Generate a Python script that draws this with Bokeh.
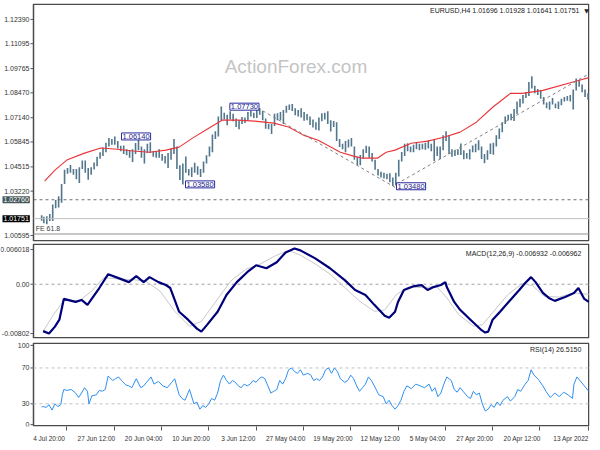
from bokeh.plotting import figure
from bokeh.layouts import column
from bokeh.models import Range1d, FixedTicker, Label
from bokeh.core.properties import value
from bokeh.embed import file_html
from bokeh.resources import INLINE

# ---------------- data ----------------
# EURUSD H4, 13 Apr - 7 Jul 2022: high/low of each 8-hour block (3 blocks per trading day)
seg_high = [
    1.0845, 1.0865, 1.0892,  1.0915, 1.0924, 1.0865,  1.0835, 1.0830, 1.0825,
    1.0815, 1.0800, 1.0790,  1.0820, 1.0800, 1.0795,  1.0825, 1.0860, 1.0867,
    1.0885, 1.0936, 1.0905,  1.0851, 1.0835, 1.0815,  1.0800, 1.0760, 1.0735,
    1.0730, 1.0720, 1.0690,  1.0656, 1.0620, 1.0580,  1.0577, 1.0540, 1.0520,
    1.0560, 1.0594, 1.0575,  1.0566, 1.0545, 1.0525,  1.0540, 1.0576, 1.0545,
    1.0540, 1.0545, 1.0621,  1.0642, 1.0620, 1.0560,  1.0560, 1.0597, 1.0575,
    1.0594, 1.0580, 1.0575,  1.0575, 1.0584, 1.0570,  1.0560, 1.0578, 1.0575,
    1.0531, 1.0490, 1.0420,  1.0395, 1.0418, 1.0415,  1.0420, 1.0425, 1.0440,
    1.0490, 1.0525, 1.0560,  1.0565, 1.0545, 1.0515,  1.0505, 1.0560, 1.0606,
    1.0598, 1.0590, 1.0575,  1.0600, 1.0690, 1.0697,  1.0700, 1.0748, 1.0740,
    1.0738, 1.0715, 1.0690,  1.0705, 1.0720, 1.0734,  1.0745, 1.0765, 1.0755,
    1.0765, 1.0787, 1.0785,  1.0778, 1.0755, 1.0745,  1.0738, 1.0735, 1.0680,
    1.0680, 1.0710, 1.0750,  1.0765, 1.0755, 1.0740,  1.0753, 1.0745, 1.0715,
    1.0718, 1.0700, 1.0710,  1.0735, 1.0749, 1.0730,  1.0740, 1.0774, 1.0720,
    1.0642, 1.0625, 1.0560,  1.0514, 1.0480, 1.0440,  1.0455, 1.0474, 1.0450,
    1.0440, 1.0507, 1.0470,  1.0460, 1.0560, 1.0601,  1.0549, 1.0525, 1.0510,
    1.0520, 1.0546, 1.0535,  1.0535, 1.0583, 1.0575,  1.0545, 1.0560, 1.0606,
    1.0579, 1.0545, 1.0540,  1.0545, 1.0566, 1.0565,  1.0590, 1.0614, 1.0600,
    1.0606, 1.0580, 1.0555,  1.0530, 1.0505, 1.0475,  1.0450, 1.0445, 1.0486,
    1.0486, 1.0450, 1.0440,  1.0440, 1.0461, 1.0445,  1.0436, 1.0360, 1.0295,
    1.0275, 1.0250, 1.0200,  1.0188, 1.0185, 1.0193,
]
seg_low = [
    1.0810, 1.0825, 1.0850,  1.0880, 1.0860, 1.0758,  1.0800, 1.0805, 1.0800,
    1.0780, 1.0760, 1.0765,  1.0785, 1.0757, 1.0765,  1.0785, 1.0815, 1.0835,
    1.0845, 1.0870, 1.0830,  1.0820, 1.0790, 1.0770,  1.0735, 1.0697, 1.0700,
    1.0700, 1.0680, 1.0636,  1.0600, 1.0560, 1.0516,  1.0520, 1.0490, 1.0471,
    1.0494, 1.0540, 1.0530,  1.0530, 1.0491, 1.0495,  1.0492, 1.0515, 1.0515,
    1.0510, 1.0505, 1.0520,  1.0590, 1.0540, 1.0493,  1.0510, 1.0483, 1.0535,
    1.0550, 1.0543, 1.0545,  1.0540, 1.0545, 1.0529,  1.0530, 1.0535, 1.0509,
    1.0480, 1.0400, 1.0354,  1.0349, 1.0370, 1.0385,  1.0389, 1.0395, 1.0405,
    1.0436, 1.0480, 1.0500,  1.0525, 1.0495, 1.0460,  1.0462, 1.0490, 1.0560,
    1.0555, 1.0530, 1.0545,  1.0557, 1.0590, 1.0665,  1.0641, 1.0680, 1.0705,
    1.0695, 1.0646, 1.0650,  1.0662, 1.0675, 1.0700,  1.0698, 1.0715, 1.0720,
    1.0727, 1.0750, 1.0755,  1.0740, 1.0681, 1.0700,  1.0700, 1.0670, 1.0627,
    1.0653, 1.0655, 1.0700,  1.0730, 1.0712, 1.0712,  1.0720, 1.0700, 1.0686,
    1.0680, 1.0653, 1.0665,  1.0695, 1.0705, 1.0674,  1.0705, 1.0700, 1.0614,
    1.0600, 1.0530, 1.0507,  1.0470, 1.0420, 1.0397,  1.0410, 1.0420, 1.0397,
    1.0405, 1.0420, 1.0358,  1.0381, 1.0440, 1.0520,  1.0490, 1.0445, 1.0470,
    1.0484, 1.0500, 1.0500,  1.0505, 1.0525, 1.0525,  1.0470, 1.0500, 1.0540,
    1.0520, 1.0477, 1.0500,  1.0513, 1.0520, 1.0535,  1.0549, 1.0570, 1.0570,
    1.0560, 1.0530, 1.0510,  1.0495, 1.0455, 1.0437,  1.0410, 1.0383, 1.0420,
    1.0440, 1.0366, 1.0385,  1.0410, 1.0420, 1.0415,  1.0360, 1.0260, 1.0235,
    1.0230, 1.0162, 1.0162,  1.0145, 1.0150, 1.0164,
]

# moving average (red) : bar index / value
ma_idx = [0, 7, 31, 45, 53, 65, 76, 87, 98, 109, 120, 131, 137, 143, 153, 159, 168, 177, 183,
          193, 203, 213, 226, 237, 248, 257, 268, 277, 286, 297, 308, 319, 330, 341, 353, 361, 368]
ma_val = [1.0928, 1.0913, 1.0860, 1.0844, 1.0844, 1.0770, 1.0690, 1.0637, 1.0610, 1.0589, 1.0578,
          1.0541, 1.0530, 1.0498, 1.0498, 1.0509, 1.0530, 1.0568, 1.0594, 1.0621, 1.0664, 1.0685,
          1.0696, 1.0701, 1.0701, 1.0658, 1.0605, 1.0557, 1.0541, 1.0530, 1.0536, 1.0546, 1.0552,
          1.0525, 1.0488, 1.0434, 1.0375]

# dashed trend lines (bar index / price)
trend1_idx = [130, 0]
trend1_val = [1.0360, 1.0948]
trend2_idx = [224, 131]
trend2_val = [1.0767, 1.0342]

# marked highs/lows (bar index where the tag starts, price)
tag_idx = [316, 242.7, 272.7, 130]
tag_val = [1.0614, 1.0773, 1.0358, 1.0348]
tag_txt = ["1.06140", "1.07730", "1.03580", "1.03480"]

level_dash = 1.02760
level_last = 1.01751
level_fe = 1.0093
level_dash_txt = "1.02760"
level_last_txt = "1.01751"

price_ticks = [1.0085, 1.03220, 1.04515, 1.05845, 1.07140, 1.08470, 1.09765, 1.11095, 1.12390]
price_tick_labels = ["1.00595", "1.03220", "1.04515", "1.05845", "1.07140", "1.08470",
                     "1.09765", "1.11095", "1.12390"]

# MACD(12,26,9)
macd_idx = [0, 3, 7, 10, 16, 23, 27, 31, 36, 39, 43, 47, 53, 60, 65, 68, 70, 73, 80, 87, 91, 96,
            97, 100, 105, 109, 113, 118, 125, 129, 131, 135, 138, 145, 151, 158, 165, 175, 185,
            195, 199, 205, 211, 218, 225, 231, 238, 245, 251, 258, 262, 265, 271, 277, 283, 286,
            291, 297, 301, 306, 311, 318, 325, 331, 339, 343, 347, 355, 358, 361, 365, 369]
macd_val = [-0.00261, -0.00217, -0.00056, -0.00129, -0.00188, -0.00246, -0.00202, -0.00129,
            0.00031, 0.00105, 0.00017, -0.00085, -0.00232, -0.00407, -0.00524, -0.00700,
            -0.00714, -0.00670, -0.00524, -0.00378, -0.00261, -0.00042, 0.00031, -0.00012,
            -0.00042, -0.00085, -0.00012, -0.00027, -0.00085, -0.00261, -0.00407, -0.00495,
            -0.00466, -0.00305, -0.00159, -0.00085, 0.00061, 0.00236, 0.00382, 0.00500,
            0.00529, 0.00470, 0.00324, 0.00236, 0.00280, 0.00178, 0.00031, -0.00159, -0.00407,
            -0.00597, -0.00700, -0.00656, -0.00524, -0.00407, -0.00056, -0.00012, 0.00031,
            0.00105, 0.00031, 0.00119, 0.00031, 0.00090, 0.00148, -0.00056, -0.00305,
            -0.00232, -0.00261, -0.00217, -0.00524, -0.00626, -0.00729, -0.00693]
sig_idx = [0, 10, 20, 30, 38, 45, 55, 65, 72, 78, 88, 96, 103, 112, 122, 130, 138, 145, 155,
           165, 175, 185, 195, 203, 212, 222, 232, 242, 252, 262, 270, 280, 290, 300, 310, 320,
           328, 336, 345, 355, 362, 369]
sig_val = [-0.0015, -0.0013, -0.0019, -0.0018, -0.0002, 0.0001, -0.0016, -0.0042, -0.0060,
           -0.0062, -0.0045, -0.0020, -0.0003, -0.0005, -0.0004, -0.0015, -0.0038, -0.0040,
           -0.0025, -0.0005, 0.0015, 0.0030, 0.0043, 0.0050, 0.0042, 0.0030, 0.0022, 0.0005,
           -0.0025, -0.0055, -0.0062, -0.0040, -0.0010, 0.0005, 0.0007, 0.0008, 0.0010,
           -0.0010, -0.0025, -0.0024, -0.0045, -0.00696]
macd_ticks = [-0.00728, 0.0, 0.00513]
macd_tick_labels = ["-0.00802", "0.00", "0.006018"]

# RSI(14)
rsi_idx = [0, 3, 6, 8, 10, 11, 14, 17, 20, 23, 26, 29, 31, 34, 37, 39, 41, 43, 46, 48, 50, 53,
           55, 58, 60, 62, 64, 66, 68, 70, 72, 74, 76, 78, 80, 82, 85, 87, 89, 91, 93, 96, 98,
           100, 102, 104, 106, 108, 111, 114, 117, 120, 123, 125, 127, 129, 131, 133, 135, 137,
           139, 142, 145, 147, 149, 151, 153, 155, 157, 159, 161, 163, 165, 168, 170, 172, 174,
           176, 178, 180, 182, 184, 186, 188, 190, 193, 195, 197, 199, 201, 203, 205, 207, 209,
           211, 213, 215, 217, 219, 221, 223, 225, 227, 229, 231, 233, 235, 237, 239, 241, 243,
           245, 247, 249, 251, 253, 255, 257, 259, 261, 263, 265, 267, 270, 273, 275, 277, 280,
           282, 285, 288, 291, 294, 296, 299, 301, 303, 306, 309, 311, 313, 316, 318, 320, 322,
           325, 327, 329, 331, 333, 336, 338, 339, 341, 343, 345, 347, 350, 353, 355, 356, 357,
           359, 361, 363, 365, 367, 369, 370]
rsi_val = [44, 50, 56, 60, 52, 36, 40, 43, 38, 42, 37, 44, 50, 57, 62, 68, 56, 52, 44, 46, 38,
           33, 38, 34, 28, 32, 26, 29, 24, 22, 30, 42, 40, 44, 36, 38, 44, 48, 43, 46, 56, 60,
           52, 42, 38, 48, 44, 52, 48, 50, 52, 47, 50, 44, 34, 28, 24, 28, 34, 30, 38, 40, 50,
           56, 60, 52, 48, 44, 50, 58, 62, 56, 54, 58, 66, 70, 64, 70, 68, 60, 56, 58, 56, 62,
           64, 62, 68, 64, 66, 70, 68, 58, 52, 56, 46, 44, 42, 50, 58, 60, 58, 54, 56, 52, 50,
           52, 48, 50, 54, 56, 52, 56, 62, 56, 42, 34, 36, 30, 26, 28, 24, 32, 30, 46, 34, 36,
           40, 58, 54, 48, 50, 55, 52, 60, 54, 50, 48, 58, 48, 50, 51, 56, 60, 58, 56, 61, 46,
           44, 45, 40, 39, 30, 44, 48, 42, 37, 42, 46, 45, 46, 40, 29, 27, 30, 23, 29, 26, 27,
           26.5]
rsi_levels = [30, 70]
rsi_ticks = [6.8, 30, 70, 95.2]
rsi_tick_labels = ["0", "30", "70", "100"]

# time axis
x_tick_idx = [0, 33, 65, 97, 129, 161, 193, 225, 257, 289, 321, 353]
x_tick_labels = ["13 Apr 2022", "20 Apr 12:00", "27 Apr 20:00", "5 May 04:00", "12 May 12:00",
                 "19 May 20:00", "27 May 04:00", "3 Jun 12:00", "10 Jun 20:00", "20 Jun 04:00",
                 "27 Jun 12:00", "4 Jul 20:00"]

# ---------------- layout helpers ----------------
FONT = "Liberation Sans"
W = 590
LB = 33          # width of the price-scale column left of each pane
RB = 1
X_LEFT, X_RIGHT = 375.5, -0.5
PPX = (W - LB - RB) / (X_LEFT - X_RIGHT)      # pixels per bar
# every frame starts at the canvas edge; the scale column is drawn inside it
x_range = Range1d(X_LEFT + LB / PPX, X_RIGHT)
BORDER = "#4a4a4a"
TXT = "#333333"


def pane(height, y0, y1, frame_h, top, bottom, ticks, labels, **kw):
    p = figure(width=W, height=height, x_range=x_range, y_range=Range1d(y0, y1),
               output_backend="svg", toolbar_location=None,
               min_border_left=0, min_border_right=RB, min_border_top=top,
               min_border_bottom=bottom, y_axis_location=None, **kw)
    p.grid.visible = False
    p.outline_line_color = None
    p.background_fill_color = "white"
    p.border_fill_color = "white"
    ppy = frame_h / (y1 - y0)
    # pane border
    p.quad(left=[X_LEFT], right=[X_RIGHT + 0.75 / PPX], bottom=[y0 + 0.75 / ppy],
           top=[y1 - 0.75 / ppy], fill_color=None, line_color=BORDER, line_width=1.5)
    # value scale: tick marks and labels left of the pane
    n = len(ticks)
    p.segment(x0=[X_LEFT] * n, x1=[X_LEFT + 3 / PPX] * n, y0=ticks, y1=ticks,
              line_color="#555555", line_width=1)
    p.text(x=[X_LEFT + 4 / PPX] * n, y=ticks, text=labels, text_align="right",
           text_baseline="middle", text_font=value(FONT), text_font_size=value("7px"),
           text_color=TXT)
    return p


def hline(p, y, **kw):
    p.line([X_LEFT, X_RIGHT], [y, y], **kw)


def title(p, x, y, text):
    p.add_layout(Label(x=x, y=y, text=text, text_align="right", text_baseline="middle",
                       text_font=FONT, text_font_size="7px", text_color="#222222"))


# ---------------- price pane ----------------
p1 = pane(242, 1.0053, 1.1324, 238, 3, 1, price_ticks, price_tick_labels,
          x_axis_location=None)

seg_x = [2 * i + 0.5 for i in range(len(seg_high))]
seg_x[-1] = 370
p1.segment(x0=seg_x, y0=seg_low, x1=seg_x, y1=seg_high, line_color="#52768c", line_width=1.6)
p1.line(ma_idx, ma_val, line_color="#e8353a", line_width=1.1)
p1.line(trend1_idx, trend1_val, line_color="#808080", line_dash="3 3", line_width=1)
p1.line(trend2_idx, trend2_val, line_color="#808080", line_dash="3 3", line_width=1)
hline(p1, level_dash, line_color="#707070", line_dash="3 3", line_width=1)
hline(p1, level_last, line_color="#c0c0c0", line_width=1)
hline(p1, level_fe, line_color="#909090", line_width=1)

for xi, yv, t in zip(tag_idx, tag_val, tag_txt):
    p1.add_layout(Label(x=xi, y=yv, text=t, text_align="left", text_baseline="middle",
                        text_font=FONT, text_font_size="7.5px", text_color="#1c1c8c",
                        background_fill_color="white", border_line_color="#2a2aa0",
                        border_line_width=1, padding=1))

x_tag = X_LEFT + (LB - 2) / PPX
p1.add_layout(Label(x=x_tag, y=level_dash, text=level_dash_txt, text_align="left",
                    text_baseline="middle", text_font=FONT, text_font_size="7px",
                    text_color="white", background_fill_color="#46585c", padding=1))
p1.add_layout(Label(x=x_tag, y=level_last, text=level_last_txt, text_align="left",
                    text_baseline="middle", text_font=FONT, text_font_size="7px",
                    text_color="white", background_fill_color="#000000", padding=1))
p1.add_layout(Label(x=374, y=1.0120, text="FE 61.8", text_align="left", text_baseline="middle",
                    text_font=FONT, text_font_size="7px", text_color="#404040"))
p1.add_layout(Label(x=198, y=1.0985, text="ActionForex.com", text_align="center",
                    text_baseline="middle", text_font=FONT, text_font_size="19px",
                    text_color="#c4c4c4"))
title(p1, 5, 1.1285, "EURUSD,H4  1.01696 1.01928 1.01641 1.01751")
p1.add_layout(Label(x=1.5, y=1.1285, text="▼", text_align="center", text_baseline="middle",
                    text_font="DejaVu Sans", text_font_size="6px", text_color="#222222"))

# ---------------- MACD pane ----------------
p2 = pane(97, -0.00802, 0.006018, 95, 1, 1, macd_ticks, macd_tick_labels,
          x_axis_location=None)
hline(p2, 0.0, line_color="#a0a0a0", line_dash="3 3", line_width=1)
p2.line(sig_idx, sig_val, line_color="#c8c8c8", line_width=1)
p2.line(macd_idx, macd_val, line_color="#00007a", line_width=2.2)
title(p2, 5, 0.00455, "MACD(12,26,9) -0.006932 -0.006962")

# ---------------- RSI pane ----------------
p3 = pane(105, 4.7, 98.4, 89, 3, 0, rsi_ticks, rsi_tick_labels)
for lv in rsi_levels:
    hline(p3, lv, line_color="#c0c0c0", line_dash="3 3", line_width=1)
p3.line(rsi_idx, rsi_val, line_color="#2f8ff0", line_width=1)
title(p3, 5, 91, "RSI(14) 26.5150")

label_pos = [t + 12 for t in x_tick_idx]
p3.xaxis.ticker = FixedTicker(ticks=label_pos, minor_ticks=x_tick_idx)
p3.xaxis.major_label_overrides = {t: l for t, l in zip(label_pos, x_tick_labels)}
p3.xaxis.axis_line_color = None
p3.xaxis.major_tick_line_color = None
p3.xaxis.minor_tick_line_color = "#555555"
p3.xaxis.minor_tick_out = 4
p3.xaxis.minor_tick_in = 0
p3.xaxis.major_label_standoff = 2
p3.xaxis.major_label_text_font = FONT
p3.xaxis.major_label_text_font_size = "6.5px"
p3.xaxis.major_label_text_color = TXT

layout = column(p1, p2, p3, spacing=0)
open("out.html", "w").write(file_html(layout, INLINE))
